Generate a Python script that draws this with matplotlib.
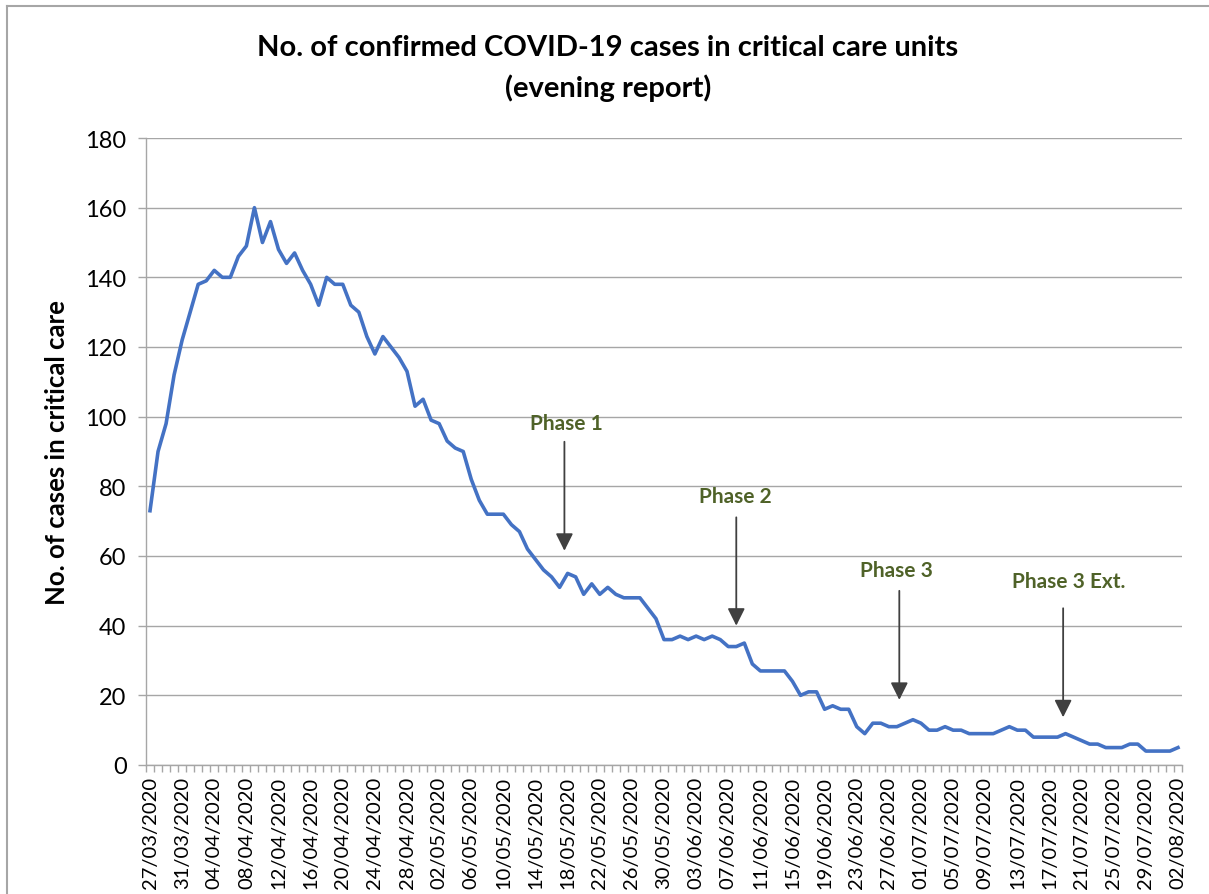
import matplotlib
matplotlib.use("Agg")
import matplotlib.pyplot as plt
from matplotlib.lines import Line2D
import numpy as np
import pandas as pd

plt.rcParams['font.family'] = ['Lato', 'DejaVu Sans']

# daily evening report, 27/03/2020 .. 02/08/2020
dates = pd.date_range('2020-03-27', '2020-08-02', freq='D')
cases = [
    73, 90, 98, 112, 122, 130, 138, 139, 142, 140, 140, 146, 149, 160,
    150, 156, 148, 144, 147, 142, 138, 132, 140, 138, 138, 132, 130, 123, 118, 123, 120, 117,
    113, 103, 105, 99, 98, 93, 91, 90, 82, 76, 72, 72, 72, 69, 67, 62, 59, 56, 54, 51,
    55, 54, 49, 52, 49, 51, 49, 48, 48, 48,
    45, 42, 36, 36, 37, 36, 37, 36, 37, 36, 34, 34, 35, 29,
    27, 27, 27, 27, 24, 20, 21, 21, 16, 17, 16, 16, 11, 9,
    12, 12, 11, 11, 12, 13, 12, 10, 10, 11, 10, 10, 9, 9, 9, 9, 10, 11, 10, 10,
    8, 8, 8, 8, 9, 8, 7, 6, 6, 5, 5, 5, 6, 6, 4, 4, 4, 4, 5,
]

# reopening phases: label, arrow x (day index), arrow top, arrow tip, label position
phase_names = ['Phase 1', 'Phase 2', 'Phase 3', 'Phase 3 Ext.']
phase_x = [51.6, 73.0, 93.3, 113.7]
phase_top = [92.8, 71.1, 50.0, 45.0]
phase_tip = [61.5, 40.0, 18.7, 13.7]
phase_label_x = [51.8, 72.9, 93.0, 114.4]
phase_label_y = [98.1, 77.3, 56.0, 52.9]

x = np.arange(len(dates))
labels = [d.strftime('%d/%m/%Y') for d in dates]

fig = plt.figure(figsize=(12.09, 8.95), dpi=100)
ax = fig.add_axes([146 / 1209, 1 - 766 / 895, 1036 / 1209, 627 / 895])

ax.plot(x, cases, color='#4472C4', lw=2.6, solid_joinstyle='round', zorder=3)

ax.set_xlim(-0.5, len(dates) - 0.5)
ax.set_ylim(0, 180)
ax.set_yticks(range(0, 181, 20))
ax.grid(axis='y', color='#a6a6a6', lw=1.0, zorder=0)
ax.set_axisbelow(True)

ax.set_xticks(x[::4])
ax.set_xticklabels(labels[::4], rotation=90, fontsize=14.5)
ax.set_xticks(np.arange(-0.5, len(dates), 1), minor=True)
ax.tick_params(axis='x', which='major', length=0, pad=8)
ax.tick_params(axis='x', which='minor', length=5, color='#a6a6a6', width=1)
ax.tick_params(axis='y', which='major', length=6, color='#a6a6a6', width=1, labelsize=17, pad=8)

for side in ['top', 'right']:
    ax.spines[side].set_visible(False)
for side in ['left', 'bottom']:
    ax.spines[side].set_color('#a6a6a6')
    ax.spines[side].set_linewidth(1.0)

ax.set_ylabel('No. of cases in critical care', fontsize=18.5, fontweight='bold', labelpad=12)

fig.text(608 / 1209, 1 - 48 / 895, 'No. of confirmed COVID-19 cases in critical care units',
         ha='center', va='center', fontsize=21, fontweight='bold')
fig.text(608 / 1209, 1 - 88 / 895, '(evening report)',
         ha='center', va='center', fontsize=21, fontweight='bold')

for name, px, top, tip, lx, ly in zip(phase_names, phase_x, phase_top, phase_tip,
                                     phase_label_x, phase_label_y):
    ax.annotate('', xy=(px, tip), xytext=(px, top),
                arrowprops=dict(arrowstyle='-|>,head_length=0.7,head_width=0.35',
                                color='#404040', lw=1.3, mutation_scale=15,
                                shrinkA=0, shrinkB=0))
    ax.text(lx, ly, name, ha='center', va='center', fontsize=15,
            fontweight='bold', color='#4f6228')

# outer chart frame
fig.add_artist(Line2D([7 / 1209, 1.0], [1 - 7 / 895, 1 - 7 / 895],
                      color='#a6a6a6', lw=1.5, transform=fig.transFigure))
fig.add_artist(Line2D([7 / 1209, 7 / 1209], [0.0, 1 - 7 / 895],
                      color='#a6a6a6', lw=1.5, transform=fig.transFigure))

fig.savefig('out.png', dpi=100)
